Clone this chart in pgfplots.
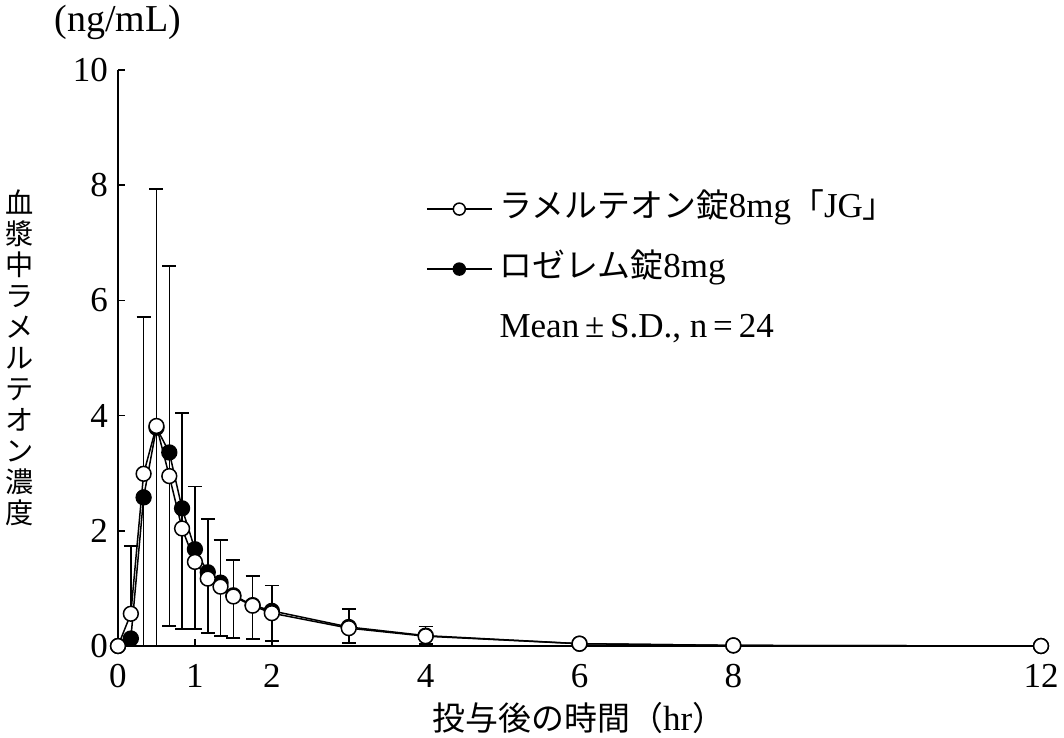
\documentclass[border=0pt]{standalone}
\usepackage{fontspec}
\setmainfont{Liberation Serif}
\newfontfamily\jp[Scale=0.94]{Noto Sans CJK JP}
\usepackage{pgfplots}
\pgfplotsset{compat=1.18}
\usepackage{pgfplotstable}

% t: time (hr), o: JG mean, ou: JG mean+SD, f: Rozerem mean, fl: Rozerem mean-SD
\pgfplotstableread{
t     o     ou    f     fl
0     0     0     0     0
0.167 0.56  1.74  0.13  0.13
0.333 2.99  5.71  2.58  -0.6
0.5   3.82  7.93  3.79  -0.6
0.667 2.95  6.60  3.36  0.35
0.833 2.04  4.05  2.39  0.29
1.0   1.46  2.77  1.68  0.29
1.167 1.17  2.20  1.28  0.23
1.333 1.03  1.84  1.10  0.17
1.5   0.86  1.49  0.88  0.14
1.75  0.70  1.22  0.71  0.12
2     0.57  1.05  0.61  0.09
3     0.31  0.64  0.33  0.05
4     0.17  0.34  0.18  0.03
6     0.04  0.04  0.04  0.04
8     0.01  0.01  0.01  0.01
12    0     0     0     0
}\data

\begin{document}
\begin{tikzpicture}[font=\fontsize{17.5bp}{21bp}\selectfont]
\begin{axis}[
  name=ax,
  scale only axis, width=461.5bp, height=288bp,
  xmin=0, xmax=12, ymin=0, ymax=10,
  axis x line*=bottom, axis y line*=left,
  axis line style={line width=0.75bp, -},
  xtick={0,1,2,4,6,8,12}, ytick={0,2,4,6,8,10},
  tick align=inside, major tick length=3.5bp,
  tick style={line width=0.75bp, black},
  /pgf/number format/assume math mode=true,
  yticklabel style={anchor=east, xshift=-1.5bp},
  xticklabel style={anchor=north, yshift=-5.5bp},
  legend image code/.code={\draw[mark repeat=2, mark phase=2, mark size=3bp]
      plot coordinates {(0bp,0bp)(16.25bp,0bp)(32.5bp,0bp)};},
  reverse legend,
  legend cell align=left,
  legend style={draw=none, fill=none, inner sep=0pt, at={(axis cs:4,7.87)}, anchor=north west,
     nodes={inner sep=0pt, text height=12bp, text depth=4bp}, row sep=14bp, column sep=3.5bp},
]
% error bars: upper from JG, lower from Rozerem
\addplot[forget plot, only marks, mark=none, black,
  error bars/.cd, y dir=plus, y explicit,
  error bar style={line width=0.8bp, black},
  error mark options={rotate=90, mark size=3.5bp, line width=0.8bp, black}]
  table[x=t, y=o, y error expr=\thisrow{ou}-\thisrow{o}] {\data};
\addplot[forget plot, only marks, mark=none, black,
  error bars/.cd, y dir=minus, y explicit,
  error bar style={line width=0.8bp, black},
  error mark options={rotate=90, mark size=3.5bp, line width=0.8bp, black}]
  table[x=t, y=f, y error expr=\thisrow{f}-\thisrow{fl}] {\data};

\addlegendimage{empty legend}
\addlegendentry{Mean\,±\,S.D., n\,=\,24}

\addplot[black, line width=0.75bp, mark=*, mark size=3.7bp,
  mark options={fill=black, line width=0.75bp}]
  table[x=t, y=f] {\data};
\addlegendentry{{\jp ロゼレム錠}8mg}

\addplot[black, line width=0.75bp, mark=*, mark size=3.7bp,
  mark options={fill=white, line width=0.75bp}]
  table[x=t, y=o] {\data};
\addlegendentry{{\jp ラメルテオン錠}8mg{\jp 「}JG{\jp 」}}
\end{axis}

\node[font=\fontsize{19bp}{22bp}\selectfont] at ([yshift=24bp]ax.north west) {(ng/mL)};
\node[font=\fontsize{15bp}{15.5bp}\jp, align=center] at ([xshift=-49bp]ax.west)
  {血\\漿\\中\\ラ\\メ\\ル\\テ\\オ\\ン\\濃\\度};
\node at ([xshift=230.5bp, yshift=-36bp]ax.south west) {{\jp 投与後の時間（}hr{\jp ）}};

\pgfresetboundingbox
\path[use as bounding box] ([shift={(-59bp,-46bp)}]ax.south west) rectangle ([shift={(473bp,323bp)}]ax.south west);
\end{tikzpicture}
\end{document}
